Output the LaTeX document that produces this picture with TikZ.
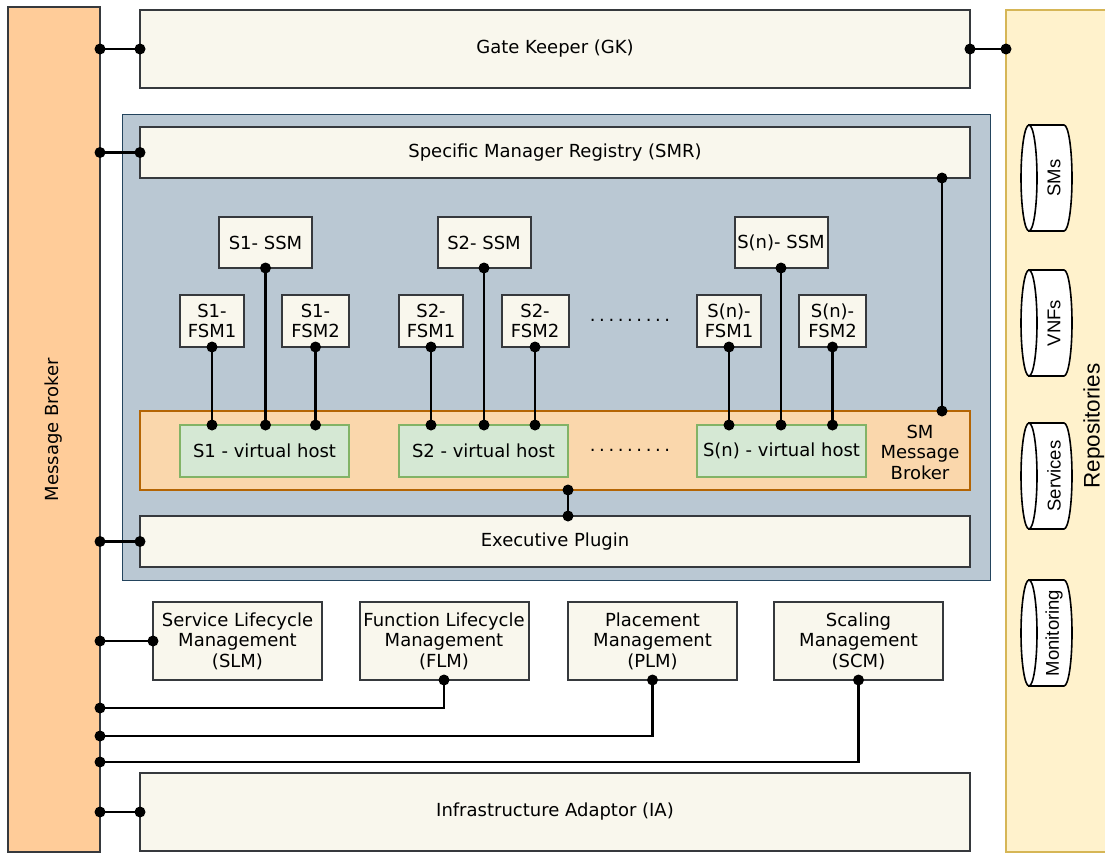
\documentclass[tikz,border=0pt]{standalone}
\usepackage{fontspec}
\setmainfont{DejaVu Sans}
\newfontfamily\arialf{Liberation Sans}
\usetikzlibrary{calc}
\definecolor{boxfill}{HTML}{F9F7ED}
\definecolor{boxline}{HTML}{36393D}
\definecolor{mbfill}{HTML}{FFCC99}
\definecolor{repofill}{HTML}{FFF2CC}
\definecolor{repoline}{HTML}{D6B656}
\definecolor{bluefill}{HTML}{BAC8D3}
\definecolor{blueline}{HTML}{23445D}
\definecolor{smfill}{HTML}{FAD7AC}
\definecolor{smline}{HTML}{B46504}
\definecolor{vhfill}{HTML}{D5E8D4}
\definecolor{vhline}{HTML}{82B366}
\newcommand\dfont{\fontsize{18}{20.5}\selectfont}
\tikzset{
  base/.style={outer sep=0pt, inner sep=1pt, align=center, font=\dfont, text=black},
  box/.style={base, draw=boxline, fill=boxfill, line width=2pt},
  vhost/.style={base, draw=vhline, fill=vhfill, line width=2pt, minimum width=169, minimum height=52},
  ssm/.style={box, minimum width=93, minimum height=51},
  fsm/.style={box, minimum height=52},
  wide/.style={box, minimum width=830},
  mgmt/.style={box, minimum width=169, minimum height=78},
  conn/.style={line width=2.4pt, black},
  dot/.style={fill=black},
  cyl/.style={draw=black, fill=white, line width=1.6pt},
  cyltext/.style={font=\arialf\fontsize{18.5}{20}\selectfont, rotate=90},
}
\newcommand\dotrow{.\hspace{3.6pt}.\hspace{3.6pt}.\hspace{3.6pt}.\hspace{3.6pt}.\hspace{3.6pt}.\hspace{3.6pt}.\hspace{3.6pt}.\hspace{3.6pt}.}
\begin{document}
\begin{tikzpicture}[x=1pt,y=-1pt]
\useasboundingbox[fill=white] (0,0) rectangle (1105,852);

% side bars
\node[base, draw=boxline, fill=mbfill, line width=2pt, minimum width=92, minimum height=845] (mb) at (54,429.5) {\rotatebox{90}{Message Broker}};
\node[base, draw=repoline, fill=repofill, line width=2pt, minimum width=110, minimum height=842, anchor=north west] (repo) at (1006,10) {};
\node[base, font=\arialf\fontsize{22.5}{25}\selectfont, rotate=90, anchor=base] (repotxt) at (1099.5,426) {Repositories};

% cylinders
\foreach \yt/\yb/\lab/\nm in {125/231/SMs/cs, 270/376/VNFs/cv, 423/529/Services/cse, 580/686/Monitoring/cm}{
  \pgfmathsetmacro\ry{(\yb-\yt)/2}
  \pgfmathsetmacro\yc{(\yb+\yt)/2}
  \filldraw[cyl] (1029,\yt) -- (1064,\yt) arc[start angle=-90, end angle=90, x radius=8, y radius=\ry] -- (1029,\yb) -- cycle;
  \filldraw[cyl] (1029,\yc) ellipse[x radius=8, y radius=\ry];
  \node[cyltext] (\nm) at (1054,\yc) {\lab};
}

% blue container
\node[base, draw=blueline, fill=bluefill, line width=1pt, minimum width=868, minimum height=466] (smf) at (556,347) {};

% wide boxes
\node[wide, minimum height=78] (gk) at (555,49) {Gate Keeper (GK)};
\node[wide, minimum height=51] (smr) at (555,152.5) {Specific Manager Registry (SMR)};
\node[base, draw=smline, fill=smfill, line width=2pt, minimum width=830, minimum height=79] (smb) at (555,450.5) {};
\node[base, anchor=center] (smbtxt) at (920,452) {SM\\Message\\Broker};
\node[wide, minimum height=51] (ep) at (555,541.5) {Executive Plugin};
\node[wide, minimum height=78] (ia) at (555,812) {Infrastructure Adaptor (IA)};

% SSMs
\node[ssm] (ssm1) at (265.5,242.5) {S1- SSM};
\node[ssm] (ssm2) at (484,242.5) {S2- SSM};
\node[ssm] (ssmn) at (781,242.5) {S(n)- SSM};
% FSMs
\node[fsm, minimum width=64] (f11) at (212,321) {S1-\\FSM1};
\node[fsm, minimum width=67] (f12) at (315.5,321) {S1-\\FSM2};
\node[fsm, minimum width=64] (f21) at (431,321) {S2-\\FSM1};
\node[fsm, minimum width=67] (f22) at (535,321) {S2-\\FSM2};
\node[fsm, minimum width=64] (fn1) at (729,321) {S(n)-\\FSM1};
\node[fsm, minimum width=67] (fn2) at (832.5,321) {S(n)-\\FSM2};
% virtual hosts
\node[vhost] (vh1) at (264.5,451) {S1 - virtual host};
\node[vhost] (vh2) at (483.5,451) {S2 - virtual host};
\node[vhost] (vhn) at (781.5,451) {S(n) - virtual host};
% dots
\node[base] (dots1) at (630,320) {\dotrow};
\node[base] (dots2) at (630,450) {\dotrow};

% mgmt boxes
\node[mgmt] (slm) at (237.5,641) {Service Lifecycle\\Management\\(SLM)};
\node[mgmt] (flm) at (444,641) {Function Lifecycle\\Management\\(FLM)};
\node[mgmt] (plm) at (652.5,641) {Placement\\Management\\(PLM)};
\node[mgmt] (scm) at (858.5,641) {Scaling\\Management\\(SCM)};

% coordinates on message broker
\coordinate (mbgk) at (mb.east |- gk.west);
\coordinate (mbsmr) at (mb.east |- smr.west);
\coordinate (mbep) at (mb.east |- ep.west);
\coordinate (mbslm) at (mb.east |- slm.west);
\coordinate (mbia) at (mb.east |- ia.west);
\coordinate (mbflm) at (100,708);
\coordinate (mbplm) at (100,736);
\coordinate (mbscm) at (100,762);
\coordinate (repogk) at (repo.west |- gk.east);
\coordinate (smrdn) at ($(smr.south east)+(-28,0)$);
\coordinate (smbup) at (smrdn |- smb.north);
\coordinate (smbdn) at (568,490);
\coordinate (epup) at (568,516);

% connectors
\foreach \a/\b in {mbgk/gk.west, mbsmr/smr.west, mbep/ep.west, mbslm/slm.west, mbia/ia.west, gk.east/repogk, smrdn/smbup, smbdn/epup,
  f11.south/{f11.south |- vh1.north}, ssm1.south/{ssm1.south |- vh1.north}, f12.south/{f12.south |- vh1.north},
  f21.south/{f21.south |- vh2.north}, ssm2.south/{ssm2.south |- vh2.north}, f22.south/{f22.south |- vh2.north},
  fn1.south/{fn1.south |- vhn.north}, ssmn.south/{ssmn.south |- vhn.north}, fn2.south/{fn2.south |- vhn.north}}{
  \draw[conn] (\a) -- (\b);
  \fill[dot] (\a) circle (5.5) (\b) circle (5.5);
}
\foreach \a/\b in {flm/mbflm, plm/mbplm, scm/mbscm}{
  \draw[conn] (\a.south) |- (\b);
  \fill[dot] (\a.south) circle (5.5) (\b) circle (5.5);
}
\end{tikzpicture}
\end{document}
